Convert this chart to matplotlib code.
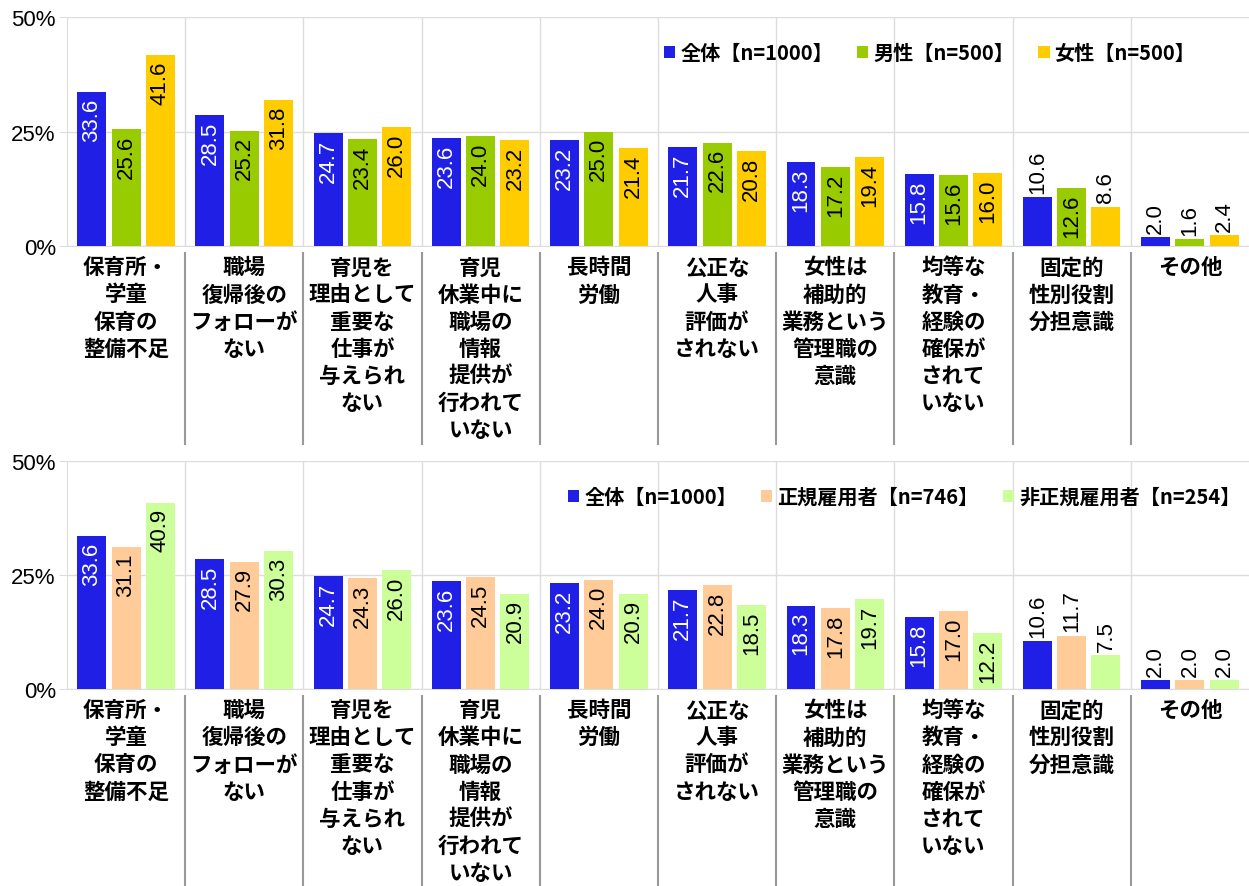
import numpy as np
import matplotlib.pyplot as plt
from matplotlib.transforms import blended_transform_factory

plt.rcParams['font.family'] = ['Noto Sans CJK JP', 'DejaVu Sans']

# カテゴリ
categories = ['保育所・\n学童\n保育の\n整備不足', '職場\n復帰後の\nフォローが\nない',
              '育児を\n理由として\n重要な\n仕事が\n与えられ\nない',
              '育児\n休業中に\n職場の\n情報\n提供が\n行われて\nいない',
              '長時間\n労働', '公正な\n人事\n評価が\nされない',
              '女性は\n補助的\n業務という\n管理職の\n意識',
              '均等な\n教育・\n経験の\n確保が\nされて\nいない',
              '固定的\n性別役割\n分担意識', 'その他']

# 上段：性別
zentai = [33.6, 28.5, 24.7, 23.6, 23.2, 21.7, 18.3, 15.8, 10.6, 2.0]
dansei = [25.6, 25.2, 23.4, 24.0, 25.0, 22.6, 17.2, 15.6, 12.6, 1.6]
josei = [41.6, 31.8, 26.0, 23.2, 21.4, 20.8, 19.4, 16.0, 8.6, 2.4]

# 下段：雇用形態
seiki = [31.1, 27.9, 24.3, 24.5, 24.0, 22.8, 17.8, 17.0, 11.7, 2.0]
hiseiki = [40.9, 30.3, 26.0, 20.9, 20.9, 18.5, 19.7, 12.2, 7.5, 2.0]

top_series = [('全体【n=1000】', zentai, '#1F1FE6', 'white'),
              ('男性【n=500】', dansei, '#99CC00', 'black'),
              ('女性【n=500】', josei, '#FFCC00', 'black')]
bot_series = [('全体【n=1000】', zentai, '#1F1FE6', 'white'),
              ('正規雇用者【n=746】', seiki, '#FFCC99', 'black'),
              ('非正規雇用者【n=254】', hiseiki, '#CCFF99', 'black')]

fig = plt.figure(figsize=(12.49, 8.87), dpi=100)
ax1 = fig.add_axes([0.0536, 0.7215, 0.9464, 0.2582])
ax2 = fig.add_axes([0.0536, 0.2221, 0.9464, 0.2570])

x = np.arange(len(categories))
w = 0.245
step = 0.29


def draw(ax, series, legend_anchor, colspace):
    for i, (name, vals, col, tcol) in enumerate(series):
        pos = x + (i - 1) * step
        ax.bar(pos, vals, width=w, color=col, label=name, zorder=3)
        for p, v in zip(pos, vals):
            if v >= 12:
                ax.annotate(f'{v:.1f}', (p, v), xytext=(0, -4), textcoords='offset points',
                            rotation=90, ha='center', va='top', color=tcol, fontsize=16,
                            family='Liberation Sans', zorder=4)
            else:
                ax.annotate(f'{v:.1f}', (p, v), xytext=(0, 3), textcoords='offset points',
                            rotation=90, ha='center', va='bottom', color='black', fontsize=16,
                            family='Liberation Sans', zorder=4)
    ax.set_xlim(-0.5, len(categories) - 0.5)
    ax.set_ylim(0, 50)
    ax.set_yticks([0, 25, 50])
    ax.set_yticklabels(['0%', '25%', '50%'], family='Liberation Sans', fontsize=16)
    ax.set_xticks([])
    ax.yaxis.grid(True, color='#dddddd', linewidth=1, zorder=0)
    ax.tick_params(axis='y', length=6, color='#dddddd', pad=2)
    for s in ['top', 'right']:
        ax.spines[s].set_visible(False)
    ax.spines['left'].set_color('#dddddd')
    ax.spines['bottom'].set_color('#dddddd')
    tr = blended_transform_factory(ax.transData, ax.transAxes)
    for b in np.arange(0.5, len(categories) - 0.5, 1):
        ax.plot([b, b], [0, 1], color='#dddddd', linewidth=1, transform=tr, zorder=1)
        ax.plot([b, b], [-0.03, -0.865], color='#999999', linewidth=1.5,
                transform=tr, clip_on=False)
    for xi, lab in zip(x, categories):
        ax.text(xi, -0.045, lab, transform=tr, ha='center', va='top', fontsize=15.5,
                fontweight='bold', linespacing=1.36)
    ax.legend(loc='upper right', bbox_to_anchor=legend_anchor, ncol=3, frameon=False,
              handlelength=0.55, handleheight=0.55, handletextpad=0.25, columnspacing=colspace,
              prop={'size': 14.5, 'weight': 'bold'})


draw(ax1, top_series, (0.97, 0.97), 1.2)
draw(ax2, bot_series, (1.008, 0.97), 1.2)

fig.savefig('out.png', dpi=100)
